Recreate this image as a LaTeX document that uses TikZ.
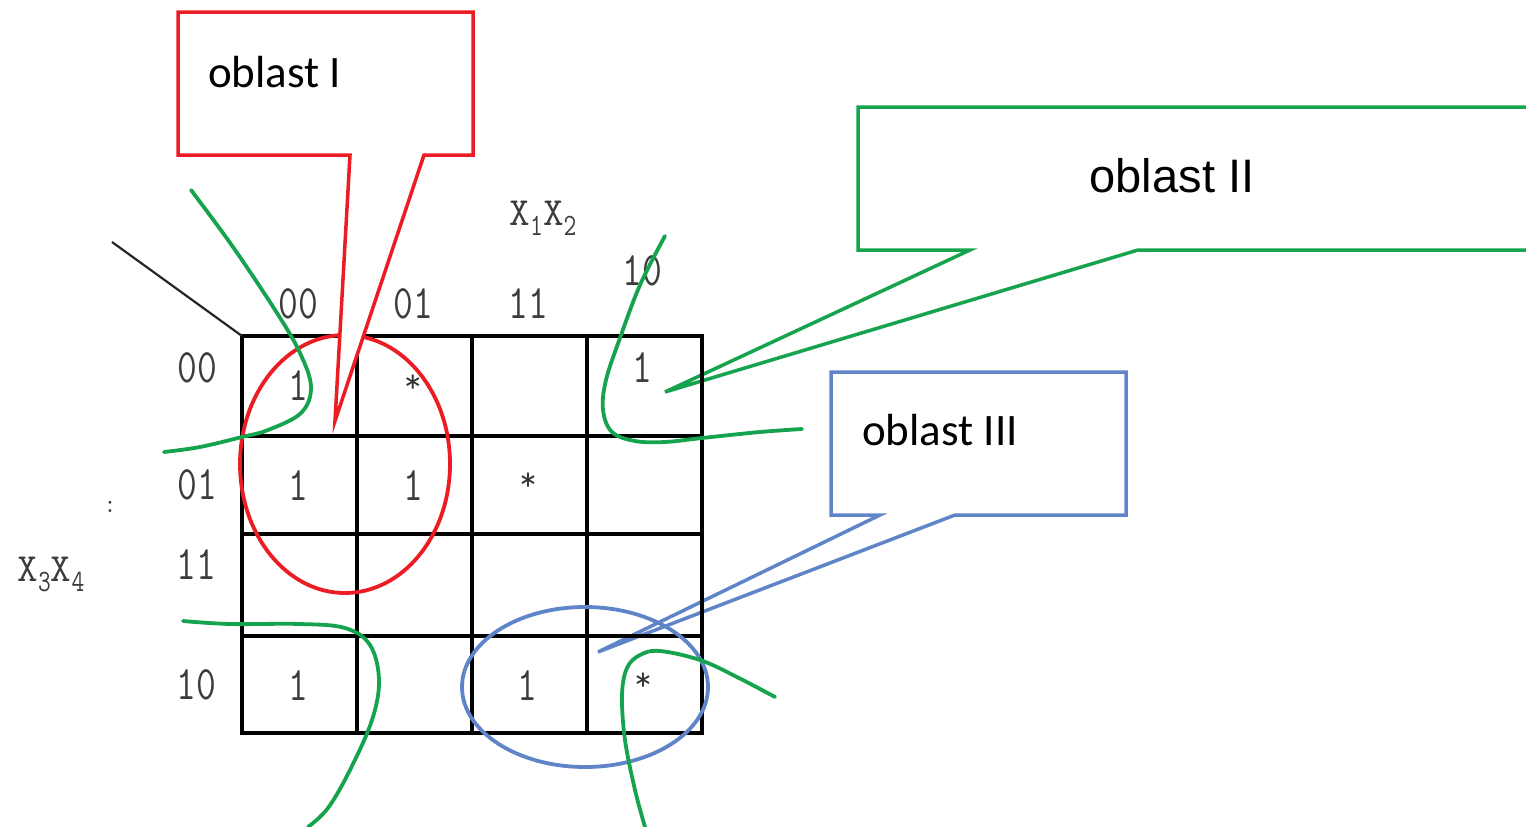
\documentclass[tikz,border=0pt]{standalone}
\usepackage{fontspec}
\usepackage{graphicx}
\newfontfamily\calloutfont{Carlito}
\newfontfamily\headfont{Liberation Sans}
\definecolor{kred}{RGB}{236,28,36}
\definecolor{kgreen}{RGB}{22,163,78}
\definecolor{kblue}{RGB}{95,133,200}
\definecolor{kgray}{RGB}{60,60,60}
% narrow mono digits
\newcommand{\nd}[1]{\scalebox{0.8}[1]{#1}}
\newcommand{\sub}[1]{\raisebox{-10pt}{\fontsize{31}{31}\selectfont\nd{#1}}}
\begin{document}
\begin{tikzpicture}[x=1pt,y=-1pt,
  gridline/.style={line width=3.5pt,black},
  digit/.style={font=\fontsize{48}{48}\selectfont\ttfamily,text=kgray,inner sep=0pt},
  starmark/.style={font=\fontsize{34}{34}\selectfont\ttfamily,text=black!80,inner sep=0pt},
  varlabel/.style={font=\fontsize{40}{40}\selectfont\ttfamily,text=kgray,inner sep=0pt},
  callout/.style={line width=3.5pt,fill=white,line join=miter},
  region/.style={line width=3.8pt,line cap=round,line join=round},
  freehand/.style={region,kgreen,smooth,tension=0.6},
  calltext/.style={font=\fontsize{45}{45}\selectfont\calloutfont,text=black,inner sep=0pt,anchor=base west}]

\useasboundingbox (0,0) rectangle (1526,827);
\fill[white] (0,0) rectangle (1526,827);

% callouts for regions II and III
\draw[callout,draw=kgreen] (858,107) -- (1545,107) -- (1545,250) -- (1138,250) -- (665,392) -- (970,250) -- (858,250) -- cycle;
\node[font=\fontsize{47}{47}\selectfont\headfont,inner sep=0pt,anchor=base] (t2) at (1172,192) {oblast II};
\draw[callout,draw=kblue] (831,372) -- (1126,372) -- (1126,515) -- (955,515) -- (598,652) -- (880,515) -- (831,515) -- cycle;
\node[calltext] (t3) at (862,445) {oblast III};

% Karnaugh map grid
\coordinate (corner) at (242,336);
\coordinate (diag) at (112,242);
\draw[gridline] (corner) rectangle (702,733);
\foreach \x in {357,472,587} \draw[gridline] (\x,336) -- (\x,733);
\foreach \y in {436,534,636} \draw[gridline] (242,\y) -- (702,\y);
\draw[line width=2.2pt,black!85] (diag) -- (corner);

% variable labels
\node[varlabel] (x12) at (543,218) {X\sub{1}X\sub{2}};
\node[varlabel] (x34) at (51,574) {X\sub{3}X\sub{4}};
\node[varlabel,font=\fontsize{26}{26}\selectfont\ttfamily] (dots) at (110,507) {:};

% column and row codes
\node[digit] (c00) at (298,304) {\nd{00}};
\node[digit] (c01) at (413,304) {\nd{01}};
\node[digit] (c11) at (528,304) {\nd{11}};
\node[digit] (c10) at (642,271) {\nd{10}};
\node[digit] (r00) at (197,368) {\nd{00}};
\node[digit] (r01) at (197,485) {\nd{01}};
\node[digit] (r11) at (196,565) {\nd{11}};
\node[digit] (r10) at (196,685) {\nd{10}};

% cell values
\node[digit] (v11) at (298,386) {\nd{1}};
\node[starmark] (v12) at (413,384) {*};
\node[digit] (v14) at (642,368) {\nd{1}};
\node[digit] (v21) at (298,486) {\nd{1}};
\node[digit] (v22) at (413,486) {\nd{1}};
\node[starmark] (v23) at (528,482) {*};
\node[digit] (v41) at (298,686) {\nd{1}};
\node[digit] (v43) at (527,686) {\nd{1}};
\node[starmark] (v44) at (643,682) {*};

% region I and region III loops
\draw[region,kred] (345,464) ellipse [x radius=105pt, y radius=129pt];
\draw[region,kblue] (585,687) ellipse [x radius=123pt, y radius=80pt];

% region II, drawn across the wrapped edges of the map
\draw[freehand] plot coordinates {(191,190) (233,247) (277,313) (300,353) (311,387) (301,413) (268,430) (242,437) (200,447) (164,452)};
\draw[freehand] plot coordinates {(665,236) (640,285) (620,338) (606,380) (603,410) (612,432) (635,441) (665,442) (702,438) (760,432) (802,429)};
\draw[freehand] plot coordinates {(183,621) (230,624) (300,624) (345,628) (370,645) (379,680) (372,720) (350,770) (328,808) (308,827)};
\draw[freehand] plot coordinates {(775,697) (735,676) (700,660) (660,651) (640,655) (627,668) (622,695) (625,740) (635,790) (645,827)};

% callout for region I, on top of the map
\draw[callout,draw=kred] (178,12) -- (473,12) -- (473,155) -- (424,155) -- (335,421) -- (350,155) -- (178,155) -- cycle;
\node[calltext] (t1) at (208,87) {oblast I};
\end{tikzpicture}
\end{document}
